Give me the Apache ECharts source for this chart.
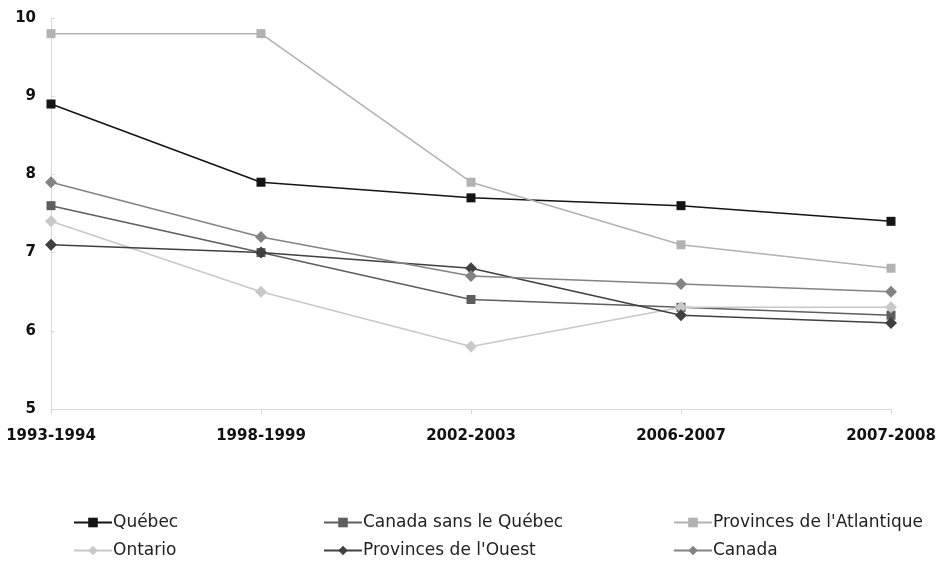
<!DOCTYPE html>
<html>
<head>
<meta charset="utf-8">
<script src="https://cdn.jsdelivr.net/npm/echarts@6/dist/echarts.min.js"></script>
<style>
  html, body { margin: 0; padding: 0; background: #fff; }
  #chart { width: 943px; height: 565px; }
</style>
</head>
<body>
<div id="chart"></div>
<script>
// categories and values
var periods = ['1993-1994', '1998-1999', '2002-2003', '2006-2007', '2007-2008']
var quebec = [8.9, 7.9, 7.7, 7.6, 7.4]
var canadaSansQuebec = [7.6, 7.0, 6.4, 6.3, 6.2]
var atlantique = [9.8, 9.8, 7.9, 7.1, 6.8]
var ontario = [7.4, 6.5, 5.8, 6.3, 6.3]
var ouest = [7.1, 7.0, 6.8, 6.2, 6.1]
var canada = [7.9, 7.2, 6.7, 6.6, 6.5]

var labelFont = 'DejaVu Sans'
var legendFont = 'DejaVu Sans'

function makeSeries(name, data, color, symbol, size) {
  return {
    name: name,
    type: 'line',
    data: data,
    symbol: symbol,
    symbolSize: size,
    showSymbol: true,
    lineStyle: { color: color, width: 1.5 },
    itemStyle: { color: color },
    emphasis: { disabled: true },
    animation: false
  }
}

// one legend per entry so the 3x2 grid stays put
function legendItem(left, top, name) {
  return {
    left: left,
    top: top,
    itemWidth: 38,
    itemHeight: 12,
    padding: 0,
    data: [name],
    textStyle: { fontFamily: legendFont, fontSize: 17, color: '#222', padding: [0, 0, 0, -4] }
  }
}

var chart = echarts.init(document.getElementById('chart'))
chart.setOption({
  backgroundColor: '#fff',
  grid: { left: 51, right: 52, top: 18, bottom: 156 },
  legend: [
    legendItem(73, 514, 'Québec'),
    legendItem(73, 542, 'Ontario'),
    legendItem(323, 514, 'Canada sans le Québec'),
    legendItem(323, 542, "Provinces de l'Ouest"),
    legendItem(673, 514, "Provinces de l'Atlantique"),
    legendItem(673, 542, 'Canada')
  ],
  xAxis: {
    type: 'category',
    data: periods,
    boundaryGap: false,
    axisLine: { lineStyle: { color: '#d9d9d9', width: 1 } },
    axisTick: { show: true, length: 5, lineStyle: { color: '#d9d9d9' } },
    axisLabel: {
      margin: 20,
      fontFamily: labelFont,
      fontWeight: 'bold',
      fontSize: 15,
      color: '#111'
    }
  },
  yAxis: {
    type: 'value',
    min: 5,
    max: 10,
    interval: 1,
    axisLine: { show: true, lineStyle: { color: '#d9d9d9', width: 1 } },
    axisTick: { show: true, inside: true, length: 4, lineStyle: { color: '#d9d9d9' } },
    splitLine: { show: false },
    axisLabel: {
      margin: 15,
      fontFamily: labelFont,
      fontWeight: 'bold',
      fontSize: 15,
      color: '#111'
    }
  },
  series: [
    makeSeries('Québec', quebec, '#141414', 'rect', 9),
    makeSeries('Canada sans le Québec', canadaSansQuebec, '#5e5e5e', 'rect', 9),
    makeSeries("Provinces de l'Atlantique", atlantique, '#b2b2b2', 'rect', 9),
    makeSeries('Ontario', ontario, '#c8c8c8', 'diamond', 12),
    makeSeries("Provinces de l'Ouest", ouest, '#404040', 'diamond', 12),
    makeSeries('Canada', canada, '#838383', 'diamond', 12)
  ]
})
</script>
</body>
</html>
